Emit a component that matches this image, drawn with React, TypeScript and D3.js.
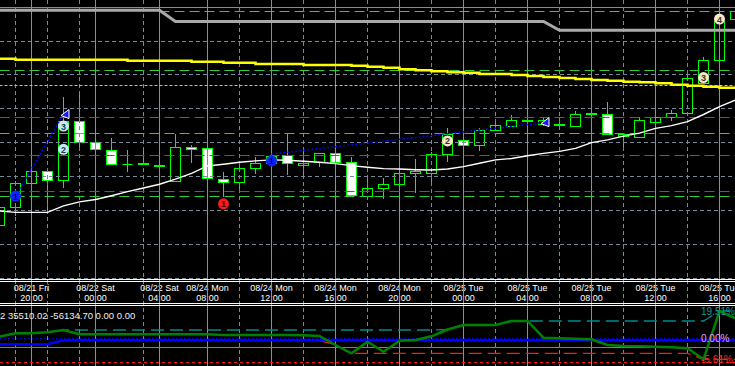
import React, { useEffect, useRef } from 'react'
import { select, scaleLinear, line, curveStepAfter, curveLinear } from 'd3'

const width = 735,
  height = 366

// hourly bars, index -1 is the half bar cut off at the left edge
const barOpen = [1.11855, 1.11909, 1.1198, 1.12014, 1.11987, 1.12162, 1.12101, 1.12076, 1.12034, 1.12038, 1.12032, 1.11984, 1.12086, 1.12083, 1.11992, 1.11983, 1.12024, 1.12039, 1.12061, 1.12032, 1.12041, 1.12068, 1.12042, 1.11942, 1.11965, 1.11977, 1.1201, 1.12009, 1.12065, 1.12106, 1.12091, 1.12135, 1.12149, 1.12163, 1.12152, 1.12151, 1.12147, 1.12182, 1.12184, 1.12119, 1.12116, 1.12159, 1.12175, 1.12187, 1.12275, 1.12342, 1.12465]
const barHigh = [1.11916, 1.11987, 1.12016, 1.12016, 1.12236, 1.12249, 1.12128, 1.12113, 1.12078, 1.12078, 1.12058, 1.12125, 1.12093, 1.12083, 1.12013, 1.12044, 1.12057, 1.12063, 1.12124, 1.12078, 1.12068, 1.12072, 1.12058, 1.11997, 1.11994, 1.12054, 1.12051, 1.12073, 1.12142, 1.12108, 1.12142, 1.12167, 1.12182, 1.12167, 1.12173, 1.12173, 1.12193, 1.12206, 1.12219, 1.12127, 1.12175, 1.12175, 1.12196, 1.12305, 1.12354, 1.12468, 1.12492]
const barLow = [1.11848, 1.11883, 1.1193, 1.11896, 1.11965, 1.12088, 1.12078, 1.12034, 1.12014, 1.12034, 1.12028, 1.11984, 1.12041, 1.11994, 1.1194, 1.1196, 1.12007, 1.12034, 1.12004, 1.11997, 1.12027, 1.12042, 1.11943, 1.11942, 1.11932, 1.11977, 1.11952, 1.11977, 1.12044, 1.12089, 1.12076, 1.12135, 1.12149, 1.12163, 1.12149, 1.12151, 1.12147, 1.12127, 1.12124, 1.12078, 1.12116, 1.12127, 1.12165, 1.12187, 1.12275, 1.12342, 1.12465]
const barClose = [1.11909, 1.1198, 1.12014, 1.11987, 1.12162, 1.121, 1.1208, 1.12036, 1.12034, 1.12034, 1.12029, 1.12086, 1.1208, 1.11994, 1.11983, 1.12024, 1.12039, 1.12059, 1.12037, 1.12039, 1.12068, 1.12042, 1.11943, 1.11965, 1.11977, 1.12009, 1.12014, 1.12065, 1.12124, 1.1209, 1.12137, 1.12151, 1.12164, 1.12166, 1.12164, 1.12154, 1.12184, 1.12185, 1.12124, 1.12124, 1.12164, 1.12175, 1.12187, 1.1229, 1.12343, 1.12457, 1.12487]

const maFast = [1.11898, 1.11894, 1.11894, 1.11894, 1.11913, 1.11925, 1.11932, 1.11943, 1.11955, 1.11966, 1.11977, 1.11992, 1.12009, 1.12031, 1.12036, 1.12042, 1.12046, 1.12049, 1.12048, 1.12045, 1.12042, 1.12038, 1.12032, 1.12027, 1.12023, 1.12022, 1.1202, 1.12019, 1.12022, 1.12029, 1.12039, 1.12049, 1.12053, 1.12061, 1.12068, 1.12074, 1.12083, 1.121, 1.12108, 1.12119, 1.12128, 1.12142, 1.1215, 1.12162, 1.12183, 1.12206, 1.12226]
const maSlow = [1.12348, 1.12345, 1.12345, 1.12345, 1.12345, 1.12345, 1.12345, 1.12345, 1.12342, 1.12342, 1.12342, 1.12342, 1.12339, 1.12339, 1.12336, 1.12336, 1.12332, 1.12332, 1.12332, 1.12329, 1.12329, 1.12329, 1.12327, 1.12324, 1.12321, 1.12317, 1.12314, 1.12311, 1.12308, 1.12306, 1.12303, 1.12303, 1.123, 1.12297, 1.12294, 1.12291, 1.12288, 1.12285, 1.12283, 1.1228, 1.12278, 1.12275, 1.12271, 1.12268, 1.12265, 1.12262, 1.12261]
const stopLine = [1.12491, 1.12491, 1.12491, 1.12491, 1.12491, 1.12491, 1.12491, 1.12491, 1.12491, 1.12491, 1.12491, 1.12458, 1.12458, 1.12458, 1.12458, 1.12458, 1.12458, 1.12458, 1.12458, 1.12458, 1.12458, 1.12458, 1.12458, 1.12458, 1.12458, 1.12458, 1.12458, 1.12458, 1.12458, 1.12458, 1.12458, 1.12458, 1.12458, 1.12458, 1.12458, 1.12432, 1.12432, 1.12432, 1.12432, 1.12432, 1.12432, 1.12432, 1.12432, 1.12432, 1.12432, 1.12432, 1.12432]

const levelPrice = [1.12488, 1.12314, 1.12269, 1.12175, 1.12127, 1.12063, 1.11957, 1.11941]
const levelColor = ['#32cd32', '#32cd32', '#87cefa', '#ff1a1a', '#32cd32', '#ff1a1a', '#ff1a1a', '#32cd32']
const levelFrom = [9, -1, -1, -1, -1, -1, -1, -1]

const gridPrice = [1.124, 1.123, 1.122, 1.121, 1.12, 1.119, 1.118, 1.117]
const tickBar = [1, 5, 9, 12, 16, 20, 24, 28, 32, 36, 40, 44]
const tickDay = ['08/21 Fri', '08/22 Sat', '08/22 Sat', '08/24 Mon', '08/24 Mon', '08/24 Mon', '08/24 Mon', '08/25 Tue', '08/25 Tue', '08/25 Tue', '08/25 Tue', '08/25 Tue']
const tickTime = ['20:00', '00:00', '04:00', '08:00', '12:00', '16:00', '20:00', '00:00', '04:00', '08:00', '12:00', '16:00']
const subGridBar = [0, 2, 4, 8, 14, 18, 22, 26, 30, 34, 38, 42]

// pattern points
const markBar = [0, 3, 3, 13, 16, 27, 43, 44]
const markPrice = [1.11942, 1.1208, 1.12149, 1.11919, 1.12046, 1.12105, 1.12292, 1.12465]
const markText = ['1', '2', '3', '1', '1', '2', '3', '4']
const markKind = ['blue', 'cyan', 'cyan', 'red', 'blue', 'cream', 'cream', 'cream']
const arrowBar = [3, 33]
const arrowPrice = [1.12183, 1.12159]
const waveA = [[0, 1.11942], [3, 1.12184]]
const waveB = [[16, 1.12066], [33, 1.12159]]

// sub window, equity in %
const equity = [1.5, 2.92, 2.92, 3.33, 4.29, 2.5, 2.5, 2.5, 2.5, 2.5, 2.5, 2.5, 2.5, 2.5, 2.2, 2.2, 2.2, 2.2, 2.2, 2.1, 1.8, -1.96, -5.42, -0.58, -4.75, -0.17, 0.13, 1.67, 4.5, 6.38, 6.38, 6.38, 8.04, 8.04, 1.08, 0.83, 0.63, 0.42, -1.96, -2.38, -2.5, -2.67, -2.92, -3.33, -7.92, 12.21, 9.17]
const balance = [-1.67, -1.67, -1.67, -1.67, 0, 0, 0, 0, 0, 0, 0, 0, 0, 0, 0, 0, 0, 0, 0, 0, 0, 0, 0, 0, 0, 0, 0, 0, 0, 0, 0, 0, 0, 0, 0, 0, 0, 0, 0, 0, 0, 0, 0, 0, 0, 0, 0]
const paneLevelVal = [0.83, -2.92, -9.17]
const paneLevelColor = ['#0000cc', '#808080', '#ff1a1a']
const paneLevelDash = ['2,2', null, '3,3']
const paneLabel = ['19.51%', '0.00%', '-5.61%']
const paneLabelVal = [12.21, 0.83, -7.92]
const paneLabelColor = ['#1a9a9a', '#f0a0f0', '#ff2a2a']
const infoText = '2 35510.02 -56134.70 0.00 0.00'

const markFill = { blue: '#1020ff', cyan: '#c6e9f5', red: '#ff1a1a', cream: '#f3e9c6' }
const markInk = { blue: '#000070', cyan: '#1a3a4a', red: '#5a0000', cream: '#3a3020' }

function Chart() {
  const svgRef = useRef(null)

  useEffect(() => {
    const svg = select(svgRef.current)
    svg.selectAll('*').remove()

    const x = scaleLinear().domain([0, 44]).range([15.5, 719.5])
    const y = scaleLinear().domain([1.117, 1.125]).range([278, 7.2])
    const py = scaleLinear().domain([-10, 14]).range([364.3, 306.7])
    const px = (i) => x(i - 1)
    const crisp = (v) => Math.round(v - 0.5) + 0.5

    svg.append('rect').attr('width', width).attr('height', height).attr('fill', '#000')

    // candles
    const g = svg.append('g')
    barOpen.forEach((o, i) => {
      const c = barClose[i]
      const cx = px(i)
      g.append('line')
        .attr('x1', cx).attr('x2', cx)
        .attr('y1', Math.round(y(barHigh[i]))).attr('y2', Math.round(y(barLow[i])))
        .attr('stroke', '#00ff00')
      const top = crisp(y(Math.max(o, c)))
      const bot = crisp(y(Math.min(o, c)))
      if (bot - top < 1) {
        g.append('line')
          .attr('x1', cx - 5).attr('x2', cx + 5)
          .attr('y1', top).attr('y2', top)
          .attr('stroke', '#00ff00')
      } else {
        g.append('rect')
          .attr('x', cx - 5).attr('y', top)
          .attr('width', 10).attr('height', bot - top)
          .attr('fill', c >= o ? '#000' : '#fff')
          .attr('stroke', '#00ff00')
      }
    })

    // grid
    gridPrice.forEach(p => {
      svg.append('line')
        .attr('x1', 0).attr('x2', width)
        .attr('y1', crisp(y(p))).attr('y2', crisp(y(p)))
        .attr('stroke', '#778899').attr('stroke-dasharray', '4,3')
    })
    svg.append('line')
      .attr('x1', 0).attr('x2', width)
      .attr('y1', crisp(y(1.125))).attr('y2', crisp(y(1.125)))
      .attr('stroke', '#8c8c8c')
    subGridBar.forEach(b => {
      svg.append('line')
        .attr('x1', x(b)).attr('x2', x(b))
        .attr('y1', 0).attr('y2', height)
        .attr('stroke', '#778899').attr('stroke-dasharray', '4,3')
    })
    tickBar.forEach(b => {
      svg.append('line')
        .attr('x1', x(b)).attr('x2', x(b))
        .attr('y1', 0).attr('y2', height)
        .attr('stroke', '#8f8f8f')
    })

    // horizontal levels
    levelPrice.forEach((p, i) => {
      svg.append('line')
        .attr('x1', x(levelFrom[i])).attr('x2', width)
        .attr('y1', crisp(y(p))).attr('y2', crisp(y(p)))
        .attr('stroke', levelColor[i])
        .attr('stroke-dasharray', levelColor[i] === '#87cefa' ? '3,2' : '10,5')
    })

    const priceLine = line().x((d, i) => px(i)).y(d => y(d))

    svg.append('path').datum(stopLine)
      .attr('d', priceLine.curve(curveLinear))
      .attr('fill', 'none').attr('stroke', '#a9a9a9').attr('stroke-width', 3)

    svg.append('path').datum(maSlow)
      .attr('d', line().x((d, i) => px(i)).y(d => y(d)).curve(curveStepAfter))
      .attr('fill', 'none').attr('stroke', '#ffff00').attr('stroke-width', 2.5)

    svg.append('path').datum(maFast)
      .attr('d', line().x((d, i) => px(i)).y(d => y(d)))
      .attr('fill', 'none').attr('stroke', '#ffffff').attr('stroke-width', 1.4)

    const wave = line().x(d => x(d[0])).y(d => y(d[1]))
    ;[waveA, waveB].forEach(w => {
      svg.append('path').datum(w)
        .attr('d', wave)
        .attr('fill', 'none').attr('stroke', '#0000ff').attr('stroke-width', 1.4)
        .attr('stroke-dasharray', '2,2')
    })

    arrowBar.forEach((b, i) => {
      const ax = x(b) + 1.5, ay = y(arrowPrice[i])
      svg.append('polygon')
        .attr('points', `${ax + 4},${ay - 5} ${ax + 4},${ay + 4} ${ax - 4},${ay + 1}`)
        .attr('fill', '#1a1aff').attr('stroke', '#fff').attr('stroke-width', 1)
    })

    markBar.forEach((b, i) => {
      const mx = x(b), my = y(markPrice[i])
      svg.append('circle')
        .attr('cx', mx).attr('cy', my).attr('r', 5.5)
        .attr('fill', markFill[markKind[i]])
      svg.append('text')
        .attr('x', mx).attr('y', my + 3.5)
        .attr('text-anchor', 'middle')
        .attr('font-family', 'Liberation Sans, Arial, sans-serif')
        .attr('font-size', 9).attr('font-weight', 'bold')
        .attr('fill', markInk[markKind[i]])
        .text(markText[i])
    })

    // time scale strip
    const axis = svg.append('g')
    ;[279.5, 281.5, 303.5, 305.5].forEach(v => {
      axis.append('line').attr('x1', 0).attr('x2', width).attr('y1', v).attr('y2', v).attr('stroke', '#fff')
    })
    tickBar.forEach((b, i) => {
      axis.append('text')
        .attr('x', x(b)).attr('y', 290.5)
        .attr('text-anchor', 'middle')
        .attr('font-family', 'Liberation Sans, Arial, sans-serif').attr('font-size', 9)
        .attr('fill', '#fff').text(tickDay[i])
      axis.append('text')
        .attr('x', x(b)).attr('y', 300.5)
        .attr('text-anchor', 'middle')
        .attr('font-family', 'Liberation Sans, Arial, sans-serif').attr('font-size', 9)
        .attr('fill', '#fff').text(tickTime[i])
      axis.append('line')
        .attr('x1', x(b)).attr('x2', x(b)).attr('y1', 282).attr('y2', 303)
        .attr('stroke', '#8f8f8f')
    })

    // sub window
    const sub = svg.append('g')
    paneLevelVal.forEach((v, i) => {
      const l = sub.append('line')
        .attr('x1', 0).attr('x2', width)
        .attr('y1', crisp(py(v))).attr('y2', crisp(py(v)))
        .attr('stroke', paneLevelColor[i])
      if (paneLevelDash[i]) l.attr('stroke-dasharray', paneLevelDash[i])
    })

    let hi = 0, lo = 0
    const peak = equity.map(v => (hi = Math.max(hi, v)))
    const trough = equity.map(v => (lo = Math.min(lo, v)))
    const firstDip = Math.max(0, trough.findIndex(v => v < 0) - 1)
    const subLine = line().x((d, i) => px(i)).y(d => py(d))
    const dipLine = line().x((d, i) => px(i + firstDip)).y(d => py(d))

    sub.append('path').datum(peak)
      .attr('d', subLine).attr('fill', 'none')
      .attr('stroke', '#008b8b').attr('stroke-width', 1.3).attr('stroke-dasharray', '13,6')
    sub.append('path').datum(trough.slice(firstDip))
      .attr('d', dipLine).attr('fill', 'none')
      .attr('stroke', '#ff1a1a').attr('stroke-width', 1.3).attr('stroke-dasharray', '13,6')
    sub.append('path').datum(balance)
      .attr('d', subLine).attr('fill', 'none')
      .attr('stroke', '#0000ff').attr('stroke-width', 2.5)
    sub.append('path').datum(equity)
      .attr('d', subLine).attr('fill', 'none')
      .attr('stroke', '#008000').attr('stroke-width', 2.5)

    paneLabel.forEach((t, i) => {
      sub.append('text')
        .attr('x', 701).attr('y', py(paneLabelVal[i]) + 4)
        .attr('font-family', 'Liberation Sans, Arial, sans-serif').attr('font-size', 10)
        .attr('fill', paneLabelColor[i]).text(t)
    })

    sub.append('text')
      .attr('x', 0).attr('y', 318.5)
      .attr('font-family', 'Liberation Sans, Arial, sans-serif').attr('font-size', 9.5)
      .attr('fill', '#f0f0f0').text(infoText)
  }, [])

  return (
    <svg ref={svgRef} width={width} height={height}
      style={{ position: 'fixed', left: 0, top: 0, display: 'block' }} />
  )
}

export default function App() {
  return <Chart />
}
